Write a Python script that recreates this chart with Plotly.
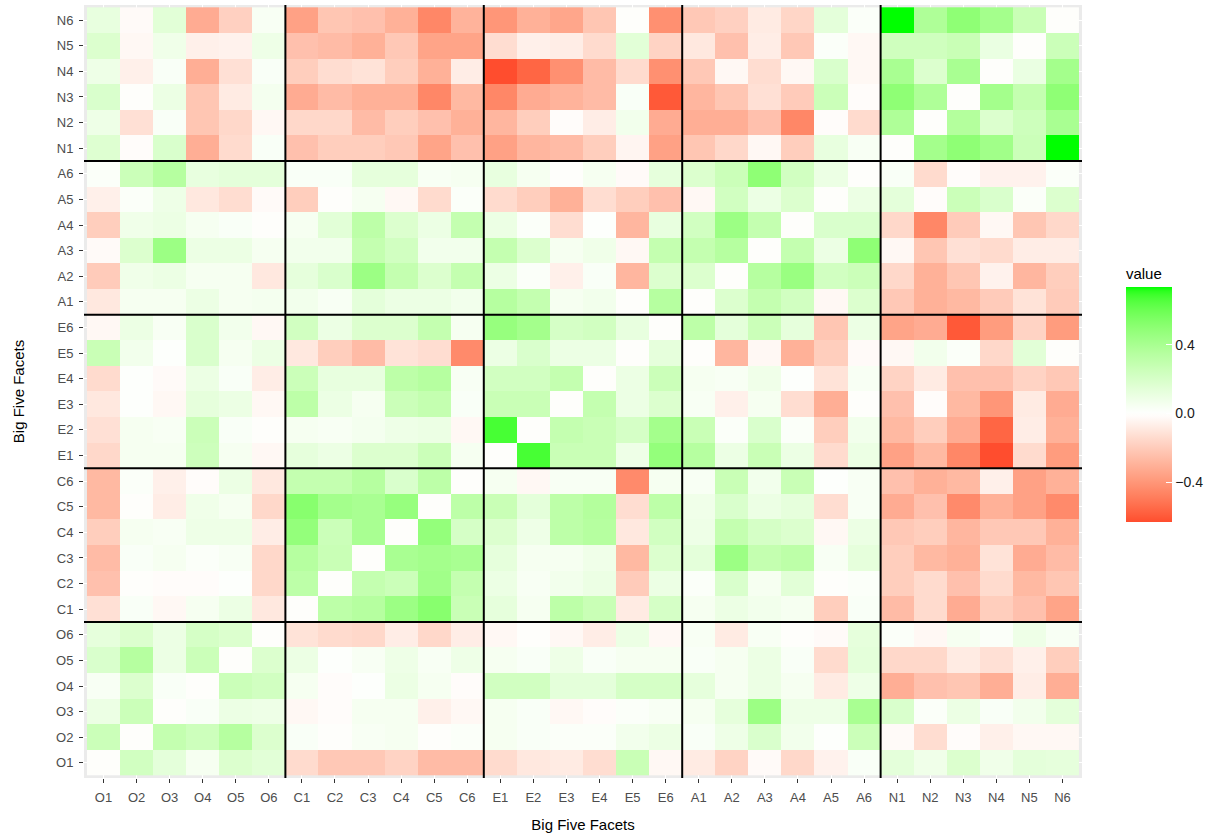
import plotly.graph_objects as go

# Big Five facet correlation matrix (rows = y facet, columns = x facet)
facets = ["O1", "O2", "O3", "O4", "O5", "O6",
          "C1", "C2", "C3", "C4", "C5", "C6",
          "E1", "E2", "E3", "E4", "E5", "E6",
          "A1", "A2", "A3", "A4", "A5", "A6",
          "N1", "N2", "N3", "N4", "N5", "N6"]

#          O block                               C block                                 E block                                 A block                                 N block
row_O1 = [0, 0.23, 0.14, 0.05, 0.18, 0.15,     -0.14, -0.21, -0.21, -0.17, -0.26, -0.26, -0.14, -0.09, -0.08, -0.13, 0.27, -0.03,  -0.08, -0.17, -0.02, -0.15, -0.05, 0.03,   0.14, 0.08, 0.18, 0.08, 0.14, 0.13]
row_O2 = [0.26, 0, 0.29, 0.25, 0.35, 0.18,     0.03, 0, 0.04, 0.05, 0, 0.02,           0.05, 0.03, 0.02, 0.02, 0.07, 0.10,     0.03, 0.09, 0.19, 0.07, 0.01, 0.26,     -0.02, -0.13, -0.01, -0.06, -0.03, -0.03]
row_O3 = [0.10, 0.26, 0, 0.03, 0.10, 0.09,     -0.03, -0.01, 0.05, 0.05, -0.06, -0.03, 0.05, 0.03, -0.03, -0.01, 0.02, 0.04,   0.05, 0.13, 0.45, 0.09, 0.09, 0.40,     0.19, 0.02, 0.10, 0.03, 0.07, 0.14]
row_O4 = [0.04, 0.18, 0.03, 0, 0.26, 0.23,     0.05, -0.01, 0.01, 0.10, 0.05, -0.01,   0.23, 0.23, 0.14, 0.14, 0.21, 0.21,     0.13, 0.05, 0.10, 0.05, -0.08, 0.09,    -0.31, -0.24, -0.22, -0.31, -0.07, -0.31]
row_O5 = [0.19, 0.35, 0.10, 0.26, 0, 0.18,     0.10, 0.01, 0.04, 0.09, 0.04, 0.09,     0.05, 0.03, 0.09, 0.03, 0.05, 0.05,     0.03, 0.05, 0.10, 0.03, -0.14, 0.14,    -0.15, -0.15, -0.08, -0.12, -0.06, -0.19]
row_O6 = [0.13, 0.18, 0.10, 0.21, 0.18, 0,     -0.11, -0.14, -0.15, -0.07, -0.15, -0.07, -0.03, 0, -0.03, -0.07, 0.10, -0.03,   0.04, -0.08, 0.04, 0, -0.02, 0.13,      0.02, -0.03, 0.05, 0.02, 0.09, 0.04]
row_C1 = [-0.12, 0.03, -0.03, 0.05, 0.10, -0.09, 0, 0.32, 0.35, 0.45, 0.52, 0.27,       0.13, 0.05, 0.32, 0.27, -0.08, 0.21,    0.05, 0.10, 0.07, 0.05, -0.19, 0.03,    -0.26, -0.14, -0.32, -0.19, -0.24, -0.35]
row_C2 = [-0.24, 0, -0.01, -0.01, 0.01, -0.15, 0.32, 0, 0.29, 0.26, 0.43, 0.29,        0.10, 0.04, 0.07, 0.10, -0.20, 0.10,    0.02, 0.19, 0.05, 0.15, 0, 0.02,        -0.19, -0.14, -0.24, -0.14, -0.27, -0.22]
row_C3 = [-0.26, 0.03, 0.05, 0.02, 0.04, -0.15, 0.35, 0.27, 0, 0.40, 0.42, 0.40,       0.13, 0.05, 0.05, 0.08, -0.27, 0.18,    0.14, 0.45, 0.29, 0.32, 0.04, 0.13,     -0.19, -0.27, -0.30, -0.11, -0.32, -0.26]
row_C4 = [-0.19, 0.05, 0.04, 0.09, 0.09, -0.07, 0.48, 0.26, 0.40, 0, 0.48, 0.21,       0.18, 0.09, 0.32, 0.35, -0.09, 0.23,    0.09, 0.29, 0.21, 0.18, -0.03, 0.10,    -0.21, -0.19, -0.28, -0.21, -0.21, -0.30]
row_C5 = [-0.27, 0, -0.07, 0.08, 0.05, -0.15,  0.52, 0.42, 0.40, 0.47, 0, 0.32,       0.27, 0.14, 0.32, 0.36, -0.13, 0.32,    0.08, 0.19, 0.10, 0.13, -0.13, 0.04,    -0.32, -0.24, -0.44, -0.30, -0.36, -0.44]
row_C6 = [-0.27, 0.02, -0.06, -0.01, 0.10, -0.09, 0.29, 0.29, 0.35, 0.19, 0.32, 0,     0.05, -0.03, 0.04, 0.04, -0.44, 0.05,   0.04, 0.27, 0.07, 0.27, 0.01, 0.04,     -0.24, -0.30, -0.27, -0.06, -0.36, -0.30]
row_E1 = [-0.15, 0.05, 0.05, 0.25, 0.05, -0.03, 0.13, 0.10, 0.18, 0.18, 0.26, 0.05,    0, 0.68, 0.27, 0.27, 0.09, 0.48,        0.35, 0.10, 0.27, 0.10, -0.14, 0.10,    -0.36, -0.27, -0.45, -0.63, -0.14, -0.38]
row_E2 = [-0.12, 0.05, 0.04, 0.26, 0.03, 0,    0.05, 0.04, 0.06, 0.09, 0.10, -0.03,    0.68, 0, 0.29, 0.27, 0.21, 0.42,        0.27, 0.02, 0.19, 0.02, -0.19, 0.07,    -0.27, -0.19, -0.32, -0.56, -0.07, -0.30]
row_E3 = [-0.09, 0.01, -0.03, 0.13, 0.10, -0.03, 0.32, 0.10, 0.05, 0.26, 0.29, 0.03,   0.27, 0.27, 0, 0.29, 0.10, 0.18,        0.04, -0.06, 0.05, -0.13, -0.31, 0,     -0.24, -0.01, -0.27, -0.40, -0.08, -0.32]
row_E4 = [-0.14, 0.01, -0.02, 0.10, 0.03, -0.07, 0.26, 0.12, 0.12, 0.32, 0.35, 0.04,   0.23, 0.23, 0.29, 0, 0.10, 0.26,        0.05, 0.04, 0.08, 0.01, -0.11, 0.04,    -0.17, -0.08, -0.24, -0.24, -0.17, -0.21]
row_E5 = [0.27, 0.07, 0.01, 0.19, 0.05, 0.10,  -0.09, -0.19, -0.26, -0.11, -0.13, -0.44, 0.10, 0.19, 0.10, 0.10, 0, 0.13,       0, -0.28, -0.03, -0.30, -0.19, -0.02,   -0.03, 0.07, 0.02, -0.15, 0.15, 0]
row_E6 = [-0.03, 0.10, 0.04, 0.19, 0.07, -0.03, 0.23, 0.10, 0.18, 0.18, 0.29, 0.05,    0.47, 0.42, 0.21, 0.23, 0.12, 0,        0.32, 0.14, 0.26, 0.13, -0.22, 0.10,    -0.35, -0.32, -0.60, -0.38, -0.17, -0.38]
row_A1 = [-0.09, 0.05, 0.05, 0.10, 0.05, 0.06, 0.07, 0.04, 0.14, 0.10, 0.10, 0.07,     0.35, 0.29, 0.05, 0.07, 0, 0.35,        0, 0.18, 0.29, 0.23, -0.03, 0.18,       -0.21, -0.30, -0.27, -0.20, -0.11, -0.20]
row_A2 = [-0.20, 0.08, 0.10, 0.05, 0.05, -0.09, 0.13, 0.19, 0.45, 0.29, 0.18, 0.29,    0.10, 0.02, -0.06, 0.03, -0.28, 0.18,   0.18, 0, 0.35, 0.46, 0.23, 0.26,        -0.15, -0.30, -0.22, -0.05, -0.28, -0.19]
row_A3 = [-0.02, 0.18, 0.45, 0.10, 0.10, 0.05, 0.07, 0.07, 0.29, 0.23, 0.07, 0.07,     0.29, 0.18, 0.05, 0.08, -0.03, 0.29,    0.29, 0.35, 0, 0.29, 0.10, 0.50,        -0.03, -0.22, -0.12, -0.14, -0.07, -0.07]
row_A4 = [-0.19, 0.08, 0.10, 0.05, 0.03, 0,    0.05, 0.15, 0.32, 0.18, 0.10, 0.29,     0.10, 0.02, -0.13, 0.01, -0.28, 0.12,   0.23, 0.45, 0.29, 0, 0.19, 0.19,        -0.15, -0.45, -0.20, -0.03, -0.22, -0.15]
row_A5 = [-0.06, 0.02, 0.09, -0.09, -0.13, -0.02, -0.19, 0, 0.05, -0.03, -0.14, 0.02,  -0.14, -0.19, -0.30, -0.13, -0.19, -0.24, -0.03, 0.23, 0.10, 0.18, 0, 0.10,     0.14, -0.01, 0.26, 0.19, 0.02, 0.18]
row_A6 = [0.02, 0.26, 0.35, 0.12, 0.14, 0.14,  0.03, 0.03, 0.13, 0.13, 0.04, 0.05,     0.12, 0.05, 0, 0.05, -0.02, 0.13,       0.18, 0.26, 0.50, 0.23, 0.10, 0,        0.03, -0.14, -0.01, -0.05, -0.05, 0.02]
row_N1 = [0.17, -0.01, 0.19, -0.31, -0.14, 0.03, -0.24, -0.19, -0.19, -0.21, -0.35, -0.24, -0.36, -0.28, -0.26, -0.19, -0.04, -0.36, -0.22, -0.15, -0.03, -0.19, 0.12, 0.04, 0, 0.42, 0.50, 0.43, 0.26, 0.74]
row_N2 = [0.09, -0.12, 0.03, -0.22, -0.15, -0.03, -0.15, -0.15, -0.26, -0.19, -0.24, -0.30, -0.28, -0.19, -0.01, -0.07, 0.07, -0.32, -0.31, -0.31, -0.24, -0.45, -0.01, -0.14, 0.38, 0, 0.36, 0.18, 0.25, 0.40]
row_N3 = [0.19, 0, 0.10, -0.22, -0.08, 0.06,   -0.32, -0.26, -0.30, -0.30, -0.45, -0.27, -0.45, -0.32, -0.29, -0.26, 0.03, -0.60, -0.28, -0.22, -0.12, -0.20, 0.26, -0.01, 0.50, 0.38, 0, 0.42, 0.29, 0.50]
row_N4 = [0.09, -0.06, 0.03, -0.31, -0.12, 0.03, -0.19, -0.13, -0.11, -0.19, -0.30, -0.07, -0.63, -0.56, -0.42, -0.26, -0.14, -0.42, -0.21, -0.03, -0.13, -0.03, 0.19, -0.03, 0.40, 0.18, 0.40, 0, 0.11, 0.42]
row_N5 = [0.18, -0.03, 0.08, -0.06, -0.05, 0.09, -0.24, -0.26, -0.30, -0.21, -0.35, -0.35, -0.13, -0.06, -0.07, -0.14, 0.15, -0.17, -0.09, -0.24, -0.07, -0.21, 0.02, -0.03, 0.24, 0.24, 0.27, 0.11, 0, 0.26]
row_N6 = [0.12, -0.02, 0.15, -0.32, -0.18, 0.04, -0.36, -0.22, -0.24, -0.30, -0.45, -0.29, -0.40, -0.30, -0.34, -0.22, 0, -0.42,   -0.21, -0.18, -0.08, -0.16, 0.14, 0.02, 0.74, 0.38, 0.50, 0.42, 0.27, 0]

z = [row_O1, row_O2, row_O3, row_O4, row_O5, row_O6,
     row_C1, row_C2, row_C3, row_C4, row_C5, row_C6,
     row_E1, row_E2, row_E3, row_E4, row_E5, row_E6,
     row_A1, row_A2, row_A3, row_A4, row_A5, row_A6,
     row_N1, row_N2, row_N3, row_N4, row_N5, row_N6]


# --- diverging red/white/green scale, interpolated in CIE Lab like ggplot2 ---
def to_lin(c):
    c = c / 255.0
    return c / 12.92 if c <= 0.04045 else ((c + 0.055) / 1.055) ** 2.4

def from_lin(c):
    c = 12.92 * c if c <= 0.0031308 else 1.055 * c ** (1 / 2.4) - 0.055
    return int(round(min(max(c, 0), 1) * 255))

def rgb_to_lab(rgb):
    r, g, b = [to_lin(c) for c in rgb]
    x = (0.4124 * r + 0.3576 * g + 0.1805 * b) / 0.95047
    y = 0.2126 * r + 0.7152 * g + 0.0722 * b
    zz = (0.0193 * r + 0.1192 * g + 0.9505 * b) / 1.08883
    f = lambda t: t ** (1 / 3) if t > 0.008856 else 7.787 * t + 16 / 116
    fx, fy, fz = f(x), f(y), f(zz)
    return 116 * fy - 16, 500 * (fx - fy), 200 * (fy - fz)

def lab_to_rgb(lab):
    L, a, b = lab
    fy = (L + 16) / 116
    fx = fy + a / 500
    fz = fy - b / 200
    finv = lambda t: t ** 3 if t ** 3 > 0.008856 else (t - 16 / 116) / 7.787
    x, y, zz = finv(fx) * 0.95047, finv(fy), finv(fz) * 1.08883
    r = 3.2406 * x - 1.5372 * y - 0.4986 * zz
    g = -0.9689 * x + 1.8758 * y + 0.0415 * zz
    bl = 0.0557 * x - 0.2040 * y + 1.0570 * zz
    return from_lin(r), from_lin(g), from_lin(bl)

low, mid, high = rgb_to_lab((255, 0, 0)), rgb_to_lab((255, 255, 255)), rgb_to_lab((0, 255, 0))

flat = [v for row in z for v in row]
zmin, zmax = min(flat), max(flat)
lim = max(abs(zmin), abs(zmax))

def colour(v):
    t = min(abs(v) / lim, 1)
    end = high if v >= 0 else low
    lab = [m + (e - m) * t for m, e in zip(mid, end)]
    return "rgb(%d,%d,%d)" % lab_to_rgb(lab)

n = 60
colorscale = [[i / n, colour(zmin + (zmax - zmin) * i / n)] for i in range(n + 1)]

fig = go.Figure(go.Heatmap(
    x=facets, y=facets, z=z,
    zmin=zmin, zmax=zmax,
    colorscale=colorscale,
    colorbar=dict(
        title=dict(text="value", side="top", font=dict(size=15, color="black")),
        thickness=46, len=257, lenmode="pixels",
        x=1.044, xanchor="left", xpad=0,
        y=0.498, yanchor="middle", ypad=0,
        outlinewidth=0,
        tickvals=[-0.4, 0, 0.4], ticktext=["\u22120.4", "0.0", "0.4"],
        ticks="inside", ticklen=6, tickcolor="white",
        tickfont=dict(size=14, color="#1a1a1a"),
    ),
))

# block separators between the five domains
for b in [5.5, 11.5, 17.5, 23.5]:
    fig.add_shape(type="line", x0=b, x1=b, y0=0, y1=1, xref="x", yref="paper",
                  line=dict(color="black", width=2))
    fig.add_shape(type="line", y0=b, y1=b, x0=0, x1=1, yref="y", xref="paper",
                  line=dict(color="black", width=2))

axis_style = dict(
    type="category",
    range=[-0.59, 29.59],
    automargin=False,
    ticks="outside", ticklen=4, tickwidth=1, tickcolor="#333333",
    ticklabelstandoff=3,
    tickfont=dict(size=13, color="#4d4d4d"),
    showgrid=True, gridcolor="white",
    zeroline=False, showline=False,
)

fig.update_layout(
    width=1223, height=839,
    margin=dict(l=84, r=141, t=5, b=61),
    font=dict(family="Liberation Sans, Arial, sans-serif"),
    plot_bgcolor="#ebebeb",
    paper_bgcolor="white",
    xaxis=dict(axis_style, title=dict(text="Big Five Facets", font=dict(size=15, color="black"), standoff=15)),
    yaxis=dict(axis_style, title=dict(text="Big Five Facets", font=dict(size=15, color="black"), standoff=27)),
)

# drop the browser's default page margin so the figure sits at the window corner
fig.write_html("out.html", config={"displayModeBar": False},
               post_script="document.body.style.margin='0';")
